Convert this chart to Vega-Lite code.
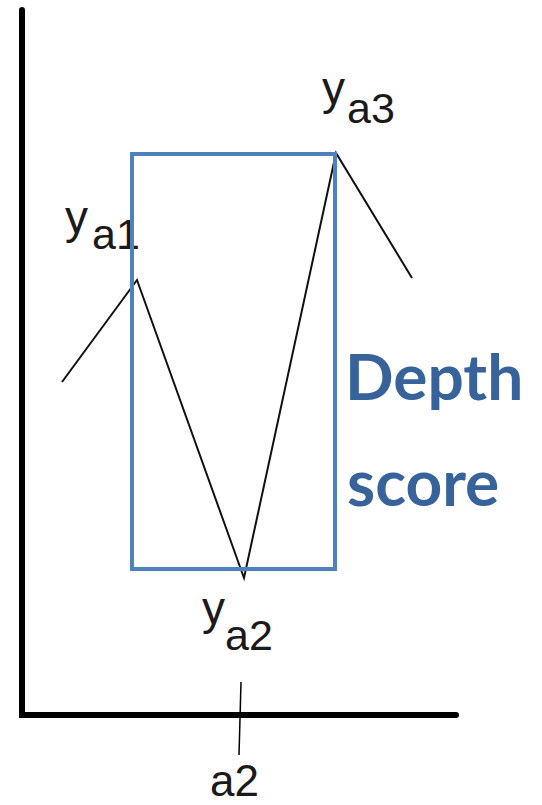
{
  "$schema": "https://vega.github.io/schema/vega-lite/v6.json",
  "width": 542,
  "height": 805,
  "padding": 0,
  "autosize": {"type": "none"},
  "background": "white",
  "config": {"view": {"stroke": null}},
  "datasets": {
    "axes": [
      {"x": 22, "y": 795, "o": 1},
      {"x": 22, "y": 90, "o": 2},
      {"x": 456, "y": 90, "o": 3}
    ],
    "tick": [{"x": 241, "y": 123, "x2": 239, "y2": 50}],
    "series": [
      {"x": 62, "y": 423, "o": 1},
      {"x": 137, "y": 525, "o": 2},
      {"x": 244, "y": 227, "o": 3},
      {"x": 336, "y": 652, "o": 4},
      {"x": 412, "y": 527, "o": 5}
    ],
    "box": [{"x": 132, "x2": 335, "y": 651, "y2": 236}],
    "mainLabels": [
      {"x": 65, "y": 572, "t": "y"},
      {"x": 322, "y": 701, "t": "y"},
      {"x": 202, "y": 181, "t": "y"}
    ],
    "axisLabel": [
      {"x": 210, "y": 9, "t": "a2"}
    ],
    "subLabels": [
      {"x": 92, "y": 556, "t": "a1"},
      {"x": 347, "y": 682, "t": "a3"},
      {"x": 225, "y": 155, "t": "a2"}
    ],
    "note": [
      {"x": 345, "y": 405, "t": "Depth"},
      {"x": 347, "y": 299, "t": "score"}
    ]
  },
  "layer": [
    {
      "data": {"name": "axes"},
      "mark": {"type": "line", "color": "black", "strokeWidth": 6, "strokeJoin": "miter", "strokeCap": "round"},
      "encoding": {
        "x": {"field": "x", "type": "quantitative", "scale": {"domain": [0, 542]}, "axis": null},
        "y": {"field": "y", "type": "quantitative", "scale": {"domain": [0, 805]}, "axis": null},
        "order": {"field": "o"}
      }
    },
    {
      "data": {"name": "tick"},
      "mark": {"type": "rule", "color": "black", "strokeWidth": 1.5},
      "encoding": {
        "x": {"field": "x", "type": "quantitative", "scale": {"domain": [0, 542]}, "axis": null},
        "y": {"field": "y", "type": "quantitative", "scale": {"domain": [0, 805]}, "axis": null},
        "x2": {"field": "x2"},
        "y2": {"field": "y2"}
      }
    },
    {
      "data": {"name": "series"},
      "mark": {"type": "line", "color": "#111111", "strokeWidth": 2},
      "encoding": {
        "x": {"field": "x", "type": "quantitative", "scale": {"domain": [0, 542]}, "axis": null},
        "y": {"field": "y", "type": "quantitative", "scale": {"domain": [0, 805]}, "axis": null},
        "order": {"field": "o"}
      }
    },
    {
      "data": {"name": "mainLabels"},
      "mark": {"type": "text", "align": "left", "baseline": "alphabetic", "font": "Liberation Sans", "fontSize": 46, "color": "#1a1a1a"},
      "encoding": {
        "x": {"field": "x", "type": "quantitative", "scale": {"domain": [0, 542]}, "axis": null},
        "y": {"field": "y", "type": "quantitative", "scale": {"domain": [0, 805]}, "axis": null},
        "text": {"field": "t"}
      }
    },
    {
      "data": {"name": "axisLabel"},
      "mark": {"type": "text", "align": "left", "baseline": "alphabetic", "font": "Liberation Sans", "fontSize": 44, "color": "#1a1a1a"},
      "encoding": {
        "x": {"field": "x", "type": "quantitative", "scale": {"domain": [0, 542]}, "axis": null},
        "y": {"field": "y", "type": "quantitative", "scale": {"domain": [0, 805]}, "axis": null},
        "text": {"field": "t"}
      }
    },
    {
      "data": {"name": "subLabels"},
      "mark": {"type": "text", "align": "left", "baseline": "alphabetic", "font": "Liberation Sans", "fontSize": 43, "color": "#1a1a1a"},
      "encoding": {
        "x": {"field": "x", "type": "quantitative", "scale": {"domain": [0, 542]}, "axis": null},
        "y": {"field": "y", "type": "quantitative", "scale": {"domain": [0, 805]}, "axis": null},
        "text": {"field": "t"}
      }
    },
    {
      "data": {"name": "box"},
      "mark": {"type": "rect", "fill": null, "filled": false, "stroke": "#4F81BD", "strokeWidth": 4},
      "encoding": {
        "x": {"field": "x", "type": "quantitative", "scale": {"domain": [0, 542]}, "axis": null},
        "y": {"field": "y", "type": "quantitative", "scale": {"domain": [0, 805]}, "axis": null},
        "x2": {"field": "x2"},
        "y2": {"field": "y2"}
      }
    },
    {
      "data": {"name": "note"},
      "mark": {"type": "text", "align": "left", "baseline": "alphabetic", "font": "Lato", "fontWeight": "bold", "fontSize": 64, "color": "#37639A"},
      "encoding": {
        "x": {"field": "x", "type": "quantitative", "scale": {"domain": [0, 542]}, "axis": null},
        "y": {"field": "y", "type": "quantitative", "scale": {"domain": [0, 805]}, "axis": null},
        "text": {"field": "t"}
      }
    }
  ]
}
